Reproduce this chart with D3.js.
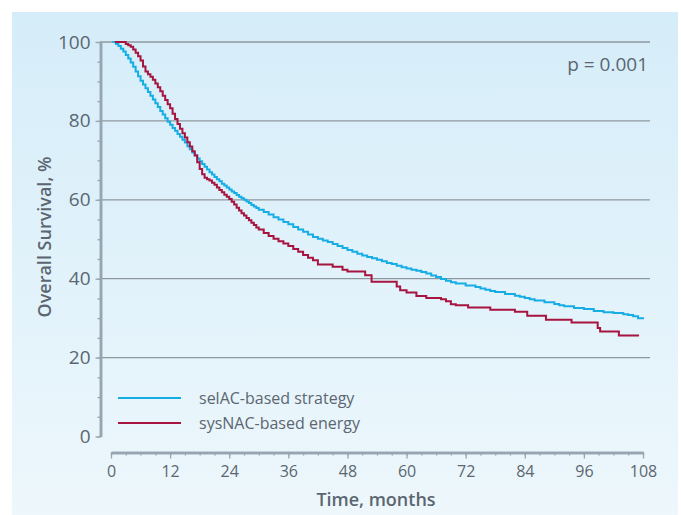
<!DOCTYPE html>
<html>
<head>
<meta charset="utf-8">
<script src="https://cdn.jsdelivr.net/npm/d3@7/dist/d3.min.js"></script>
<style>
  body { margin: 0; background: #fff; }
  .chart text { font-family: 'Open Sans', sans-serif; fill: #5b6670; }
</style>
</head>
<body>
<div class="chart"></div>
<script>
// ticks
const yTicks = [0, 20, 40, 60, 80, 100];
const xTicks = [0, 12, 24, 36, 48, 60, 72, 84, 96, 108];

// Kaplan-Meier curves, [month, survival %]
const selAC = [
    [0.3, 100], [1, 99.5], [1.5, 99.0], [2, 98.3], [2.5, 97.6], [3, 96.7], [3.5, 95.8],
    [4, 94.8], [4.5, 93.7], [5, 92.5], [5.5, 91.3], [6, 90.2], [6.5, 89.2], [7, 88.3],
    [7.5, 87.3], [8, 86.4], [8.5, 85.4], [9, 84.5], [9.5, 83.5], [10, 82.5], [10.5, 81.6],
    [11, 80.7], [11.5, 79.8], [12, 79.0], [12.5, 78.2], [13, 77.5], [13.5, 76.7], [14, 76.0],
    [14.5, 75.2], [15, 74.5], [15.5, 73.6], [16, 72.8], [16.5, 72.0], [17, 71.3], [17.5, 70.5],
    [18, 69.8], [18.5, 69.1], [19, 68.4], [19.5, 67.7], [20, 67.0], [20.5, 66.4], [21, 65.8],
    [21.5, 65.2], [22, 64.7], [22.5, 64.1], [23, 63.6], [23.5, 63.1], [24, 62.6], [24.5, 62.1],
    [25, 61.7], [25.5, 61.2], [26, 60.8], [26.5, 60.4], [27, 60.0], [27.5, 59.6], [28, 59.2],
    [28.5, 58.7], [29, 58.3], [29.5, 57.9], [30, 57.5], [31, 56.9], [32, 56.3], [33, 55.6],
    [34, 55.0], [35, 54.4], [36, 53.8], [37, 53.1], [38, 52.5], [39, 51.9], [40, 51.2],
    [41, 50.6], [42, 50.1], [43, 49.7], [44, 49.3], [45, 48.8], [46, 48.3], [47, 47.8],
    [48, 47.3], [49, 46.8], [50, 46.3], [51, 45.9], [52, 45.5], [53, 45.2], [54, 44.8],
    [55, 44.4], [56, 44.0], [57, 43.7], [58, 43.3], [59, 42.9], [60, 42.6], [61, 42.3],
    [62, 42.0], [63, 41.7], [64, 41.3], [65, 40.8], [66, 40.4], [67, 39.9], [68, 39.5],
    [69, 39.1], [70, 38.8], [72, 38.3], [74, 37.9], [75, 37.5], [76, 37.2], [77, 36.9],
    [78, 36.6], [80, 36.1], [82, 35.7], [83, 35.4], [84, 35.1], [85, 34.8], [86, 34.5],
    [88, 34.0], [90, 33.6], [91, 33.3], [92, 33.0], [94, 32.6], [96, 32.3], [98, 31.8],
    [100, 31.5], [102, 31.3], [104, 31.0], [105, 30.8], [106, 30.5], [107, 30.0], [108, 29.7]
];

const sysNAC = [
    [0.8, 100], [2.5, 100], [3, 99.5], [3.5, 99.2], [4, 98.8], [4.5, 98.1], [5, 97.3],
    [5.5, 96.4], [6, 95.3], [6.5, 93.8], [7, 92.5], [7.5, 91.8], [8, 91.2], [8.5, 90.4],
    [9, 89.5], [9.5, 88.5], [10, 87.5], [10.5, 86.4], [11, 85.3], [11.5, 84.2], [12, 83.2],
    [12.5, 81.8], [13, 80.5], [13.5, 79.2], [14, 78.0], [14.5, 76.9], [15, 75.8], [15.5, 74.6],
    [16, 73.5], [16.5, 72.3], [17, 71.2], [17.5, 69.5], [18, 67.8], [18.5, 66.5], [19, 65.6],
    [19.5, 65.2], [20, 64.9], [20.5, 64.3], [21, 63.8], [21.5, 63.1], [22, 62.5], [22.5, 61.9],
    [23, 61.3], [23.5, 60.8], [24, 60.2], [24.5, 59.5], [25, 58.8], [25.5, 58.0], [26, 57.3],
    [26.5, 56.6], [27, 56.0], [27.5, 55.4], [28, 54.8], [28.5, 54.2], [29, 53.6], [29.5, 53.0],
    [30, 52.5], [31, 51.6], [32, 50.8], [33, 50.1], [34, 49.5], [35, 48.9], [36, 48.3],
    [37, 47.5], [38, 46.8], [39, 46.0], [40, 45.3], [41, 44.7], [42, 43.6], [45, 43.0],
    [47, 42.3], [48, 41.8], [51.6, 40.9], [52.9, 39.2], [56, 39.2], [58, 38.0], [58.7, 37.1],
    [60, 36.5], [62, 35.6], [64, 35.1], [67, 34.8], [68, 34.3], [69, 33.5], [70, 33.3],
    [72.5, 32.7], [77, 32.1], [82, 31.6], [84.5, 30.6], [88.3, 29.6], [93.5, 28.9],
    [98.8, 27.5], [99.3, 26.6], [103.1, 25.6], [107.2, 25.6]
];

const seriesNames = ['selAC-based strategy', 'sysNAC-based energy'];
const seriesColors = ['#16ade5', '#a6143f'];
const pValue = 'p = 0.001';

const w = 681;
const h = 515;

const svg = d3.select('.chart')
    .append('svg')
    .attr('width', w)
    .attr('height', h);

const defs = svg.append('defs');
const grad = defs.append('linearGradient')
    .attr('id', 'bg')
    .attr('x1', 0).attr('y1', 0).attr('x2', 0).attr('y2', 1);
grad.append('stop').attr('offset', '0%').attr('stop-color', '#d5edf9');
grad.append('stop').attr('offset', '100%').attr('stop-color', '#edf7fc');

svg.append('rect')
    .attr('x', 12).attr('y', 12)
    .attr('width', 666).attr('height', 503)
    .attr('fill', 'url(#bg)');

const y = d3.scaleLinear().domain([0, 100]).range([436.5, 42]);
const x = d3.scaleLinear().domain([0, 108]).range([111, 643]);

// gridlines
svg.append('g')
    .selectAll('line')
    .data(yTicks.filter(d => d > 0))
    .enter()
    .append('line')
    .attr('x1', 100).attr('x2', 650)
    .attr('y1', d => y(d)).attr('y2', d => y(d))
    .attr('stroke', '#8f979e')
    .attr('stroke-width', 1.3);

// y axis, minor then major
const yMinor = svg.append('g')
    .attr('transform', 'translate(100.5,0)')
    .call(d3.axisLeft(y).tickValues(d3.range(0, 101, 5)).tickSize(3).tickSizeOuter(0).tickFormat(''));
const yAxis = svg.append('g')
    .attr('transform', 'translate(100.5,0)')
    .call(d3.axisLeft(y).tickValues(yTicks).tickSize(5).tickSizeOuter(0).tickPadding(5));

// x axis
const xMinor = svg.append('g')
    .attr('transform', 'translate(0,452.5)')
    .call(d3.axisBottom(x).tickValues(d3.range(0, 109, 3)).tickSize(3).tickSizeOuter(0).tickFormat(''));
const xAxis = svg.append('g')
    .attr('transform', 'translate(0,452.5)')
    .call(d3.axisBottom(x).tickValues(xTicks).tickSize(6).tickSizeOuter(0).tickPadding(7));

[yMinor, yAxis, xMinor, xAxis].forEach(g => {
    g.select('.domain').attr('stroke', '#96a5b0').attr('stroke-width', 2.5);
    g.selectAll('.tick line').attr('stroke', '#96a5b0').attr('stroke-width', 1.3);
});
yAxis.selectAll('.tick text')
    .style('font-family', "'Open Sans', sans-serif")
    .style('font-size', '19px')
    .style('font-weight', 500)
    .attr('fill', '#5b6670');
xAxis.selectAll('.tick text')
    .style('font-family', "'Open Sans', sans-serif")
    .style('font-size', '16px')
    .style('font-weight', 500)
    .attr('fill', '#5b6670');

// curves
const line = d3.line()
    .x(d => x(d[0]))
    .y(d => y(d[1]))
    .curve(d3.curveStepAfter);

[selAC, sysNAC].forEach((data, i) => {
    svg.append('path')
        .datum(data)
        .attr('d', line)
        .attr('fill', 'none')
        .attr('stroke', seriesColors[i])
        .attr('stroke-width', 2);
});

// legend
const legend = svg.append('g')
    .selectAll('g')
    .data(seriesNames)
    .enter()
    .append('g')
    .attr('transform', (d, i) => 'translate(118,' + (398 + i * 25) + ')');
legend.append('line')
    .attr('x1', 0).attr('x2', 63)
    .attr('stroke', (d, i) => seriesColors[i])
    .attr('stroke-width', 2);
legend.append('text')
    .attr('x', 81)
    .attr('dy', '0.35em')
    .style('font-size', '16px')
    .style('font-weight', 500)
    .text(d => d);

// p value
svg.append('text')
    .attr('x', 648).attr('y', 71)
    .attr('text-anchor', 'end')
    .style('font-size', '19px')
    .style('font-weight', 500)
    .text(pValue);

// axis titles
svg.append('text')
    .attr('transform', 'translate(51,237) rotate(-90)')
    .attr('text-anchor', 'middle')
    .style('font-size', '18px')
    .style('font-weight', 600)
    .text('Overall Survival, %');

svg.append('text')
    .attr('x', 376).attr('y', 506)
    .attr('text-anchor', 'middle')
    .style('font-size', '18px')
    .style('font-weight', 600)
    .text('Time, months');
</script>
</body>
</html>
